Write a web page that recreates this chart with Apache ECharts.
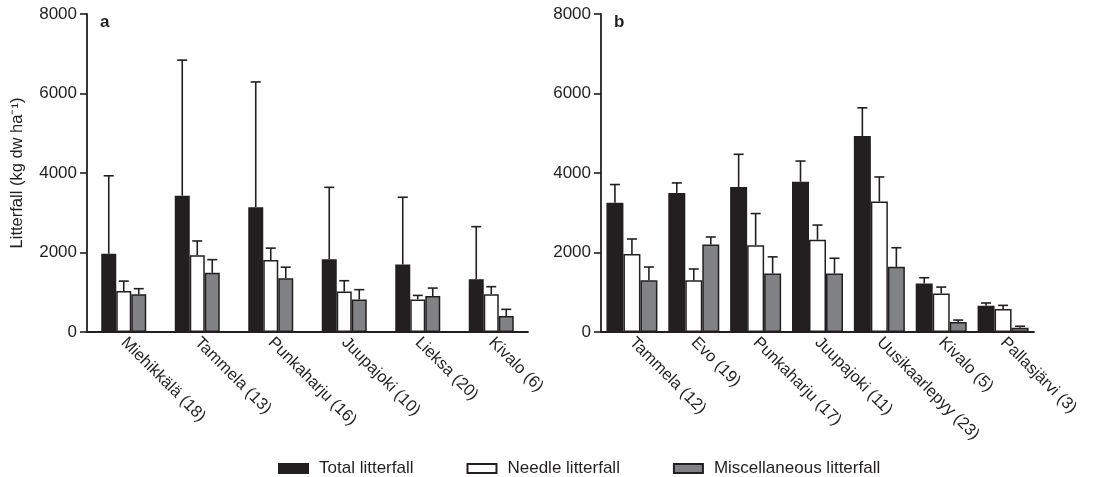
<!DOCTYPE html>
<html>
<head>
<meta charset="utf-8">
<script src="https://cdn.jsdelivr.net/npm/echarts@6/dist/echarts.min.js"></script>
<style>
  html, body { margin: 0; padding: 0; background: #fff; }
  #chart { width: 1094px; height: 477px; }
</style>
</head>
<body>
<div id="chart"></div>
<script>
// panel a
var sitesA = ['Miehikkälä (18)', 'Tammela (13)', 'Punkaharju (16)', 'Juupajoki (10)', 'Lieksa (20)', 'Kivalo (6)'];
var totalA = [1970, 3430, 3140, 1830, 1700, 1330];
var totalSdA = [1960, 3410, 3150, 1810, 1690, 1320];
var needleA = [1030, 1930, 1810, 1020, 820, 950];
var needleSdA = [250, 360, 300, 270, 100, 190];
var miscA = [950, 1490, 1350, 820, 905, 400];
var miscSdA = [140, 330, 280, 245, 200, 170];

// panel b
var sitesB = ['Tammela (12)', 'Evo (19)', 'Punkaharju (17)', 'Juupajoki (11)', 'Uusikaarlepyy (23)', 'Kivalo (5)', 'Pallasjärvi (3)'];
var totalB = [3250, 3500, 3650, 3780, 4930, 1220, 660];
var totalSdB = [460, 250, 820, 520, 710, 145, 70];
var needleB = [1960, 1300, 2180, 2320, 3280, 970, 580];
var needleSdB = [380, 285, 800, 370, 620, 160, 90];
var miscB = [1300, 2200, 1470, 1470, 1640, 250, 110];
var miscSdB = [335, 190, 420, 385, 480, 50, 35];

var names = ['Total litterfall', 'Needle litterfall', 'Miscellaneous litterfall'];
var fills = ['#231f20', '#ffffff', '#808285'];
var ink = '#231f20';
var font = 'Liberation Sans, Arial, Helvetica, sans-serif';
var wA = 15, wB = 17;

function barSeries(k, gi, values, w) {
    return {
        name: names[k],
        type: 'bar',
        xAxisIndex: gi,
        yAxisIndex: gi,
        barWidth: w,
        barGap: '0%',
        data: values,
        z: 3,
        itemStyle: { color: fills[k], borderColor: ink, borderWidth: 1.5 }
    };
}

// upward-only error bars with a cap
function errSeries(k, gi, values, sds, w) {
    return {
        type: 'custom',
        xAxisIndex: gi,
        yAxisIndex: gi,
        z: 2,
        silent: true,
        data: values.map(function (v, i) { return [i, v, v + sds[i]]; }),
        encode: { x: 0, y: [1, 2] },
        renderItem: function (params, api) {
            var base = api.coord([api.value(0), api.value(1)]);
            var top = api.coord([api.value(0), api.value(2)]);
            var x = base[0] + (k - 1) * w;
            var st = { stroke: ink, lineWidth: 1.6 };
            return {
                type: 'group',
                children: [
                    { type: 'line', shape: { x1: x, y1: base[1], x2: x, y2: top[1] }, style: st },
                    { type: 'line', shape: { x1: x - 5, y1: top[1], x2: x + 5, y2: top[1] }, style: st }
                ]
            };
        }
    };
}

function xAx(gi, cats) {
    return {
        type: 'category',
        gridIndex: gi,
        data: cats,
        axisLine: { lineStyle: { color: ink, width: 1.8 } },
        axisTick: { alignWithLabel: true, length: 6, lineStyle: { color: ink, width: 1.6 } },
        axisLabel: { rotate: -45, margin: 8, color: ink, fontSize: 16.5, fontFamily: font, interval: 0 }
    };
}

function yAx(gi, withName) {
    var ax = {
        type: 'value',
        gridIndex: gi,
        min: 0,
        max: 8000,
        interval: 2000,
        splitLine: { show: false },
        axisLine: { show: true, lineStyle: { color: ink, width: 1.8 } },
        axisTick: { show: true, length: 7, lineStyle: { color: ink, width: 1.6 } },
        axisLabel: {
            margin: 10, color: ink, fontSize: 17, fontFamily: font,
            formatter: function (v) { return String(v); }
        }
    };
    if (withName) {
        ax.name = 'Litterfall (kg dw ha⁻¹)';
        ax.nameLocation = 'middle';
        ax.nameGap = 61;
        ax.nameTextStyle = { color: ink, fontSize: 16.5, fontFamily: font };
    }
    return ax;
}

var option = {
    animation: false,
    backgroundColor: '#fff',
    title: [
        { text: 'a', left: 95, top: 9, textStyle: { fontSize: 17, fontWeight: 'bold', color: ink, fontFamily: font } },
        { text: 'b', left: 609, top: 9, textStyle: { fontSize: 17, fontWeight: 'bold', color: ink, fontFamily: font } }
    ],
    legend: {
        data: names,
        icon: 'rect',
        top: 455,
        left: 273,
        itemWidth: 29,
        itemHeight: 9,
        itemGap: 53,
        textStyle: { color: ink, fontSize: 17, fontFamily: font, padding: [0, 0, 0, 6] }
    },
    grid: [
        { left: 87, top: 14, width: 441, height: 318 },
        { left: 601, top: 14, width: 433, height: 318 }
    ],
    xAxis: [xAx(0, sitesA), xAx(1, sitesB)],
    yAxis: [yAx(0, true), yAx(1, false)],
    series: [
        barSeries(0, 0, totalA, wA),
        barSeries(1, 0, needleA, wA),
        barSeries(2, 0, miscA, wA),
        errSeries(0, 0, totalA, totalSdA, wA),
        errSeries(1, 0, needleA, needleSdA, wA),
        errSeries(2, 0, miscA, miscSdA, wA),
        barSeries(0, 1, totalB, wB),
        barSeries(1, 1, needleB, wB),
        barSeries(2, 1, miscB, wB),
        errSeries(0, 1, totalB, totalSdB, wB),
        errSeries(1, 1, needleB, needleSdB, wB),
        errSeries(2, 1, miscB, miscSdB, wB)
    ]
};

var chart = echarts.init(document.getElementById('chart'));
chart.setOption(option);
</script>
</body>
</html>
